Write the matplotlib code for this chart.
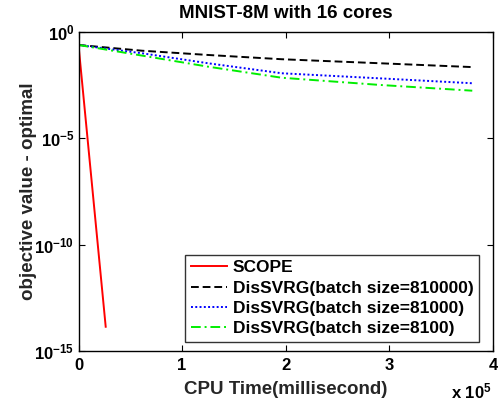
import matplotlib
matplotlib.use("Agg")
import matplotlib.pyplot as plt
import numpy as np

plt.rcParams['font.family'] = ['Liberation Sans', 'DejaVu Sans']
plt.rcParams['font.weight'] = 'bold'
plt.rcParams['mathtext.fontset'] = 'custom'
plt.rcParams['mathtext.rm'] = 'Liberation Sans:bold'
plt.rcParams['mathtext.bf'] = 'Liberation Sans:bold'
plt.rcParams['mathtext.it'] = 'Liberation Sans:bold'

# Data (x in units of 1e5 ms, y as log10 of objective gap)
scope_x = [0.0, 0.087, 0.2625]
scope_logy = [-0.61, -5.0, -13.86]

x_common = [0.0, 0.613, 1.25, 1.96, 2.91, 3.80]
b810000_logy = [-0.61, -0.88, -1.08, -1.28, -1.47, -1.65]
b81000_logy = [-0.61, -1.00, -1.47, -1.94, -2.18, -2.41]
b8100_logy = [-0.61, -1.11, -1.63, -2.15, -2.49, -2.76]

labels = ['SCOPE', 'DisSVRG(batch size=810000)', 'DisSVRG(batch size=81000)', 'DisSVRG(batch size=8100)']
xticks = [0, 1, 2, 3, 4]
yticks_exp = [0, -5, -10, -15]

W, H = 498, 405
fig = plt.figure(figsize=(W / 100, H / 100), dpi=100)
ax = fig.add_axes([78.5 / W, 1 - 351 / H, (493 - 78.5) / W, (351 - 32) / H])

ax.semilogy(scope_x, 10 ** np.array(scope_logy), color='red', lw=1.4, label=labels[0])
ax.semilogy(x_common, 10 ** np.array(b810000_logy), color='black', lw=1.4, ls=(0, (4, 2)), label=labels[1])
ax.semilogy(x_common, 10 ** np.array(b81000_logy), color='blue', lw=1.4, ls=(0, (1, 1.2)), label=labels[2])
ax.semilogy(x_common, 10 ** np.array(b8100_logy), color='#00ee00', lw=1.4, ls=(0, (5, 2, 1, 2)), label=labels[3])

ax.set_xlim(0, 4)
ax.set_ylim(1e-15, 1)
ax.set_xticks(xticks)
ax.set_xticklabels([str(t) for t in xticks], fontsize=12, fontweight='bold')
ax.set_yticks([10.0 ** e for e in yticks_exp])
ax.set_yticklabels([r'$10^{%d}$' % e for e in yticks_exp], fontsize=12)
ax.minorticks_off()
ax.tick_params(direction='in', top=True, right=True, length=4, width=0.8, pad=5)
ax.tick_params(axis='y', pad=3)
for s in ax.spines.values():
    s.set_linewidth(1.0)

ax.set_title('MNIST-8M with 16 cores', fontsize=13.5, fontweight='bold', pad=10)
ax.set_xlabel('CPU Time(millisecond)', fontsize=13.5, fontweight='bold', color='#262626', labelpad=6)
ax.set_ylabel('objective value - optimal', fontsize=13.5, fontweight='bold', color='#262626', labelpad=-2)

fig.text(492 / W, 1 - 398 / H, r'x $10^{5}$', ha='right', va='baseline', fontsize=12)

leg = ax.legend(loc='lower right', bbox_to_anchor=(479 / W, 1 - 341.7 / H),
                bbox_transform=fig.transFigure, borderaxespad=0,
                fontsize=12.5, frameon=True, fancybox=False,
                edgecolor='black', handlelength=2.1, handletextpad=0.35,
                labelspacing=0.3, borderpad=0.3)
leg.get_frame().set_linewidth(1.0)
for t in leg.get_texts():
    t.set_fontweight('bold')

fig.savefig('out.png', dpi=100)
